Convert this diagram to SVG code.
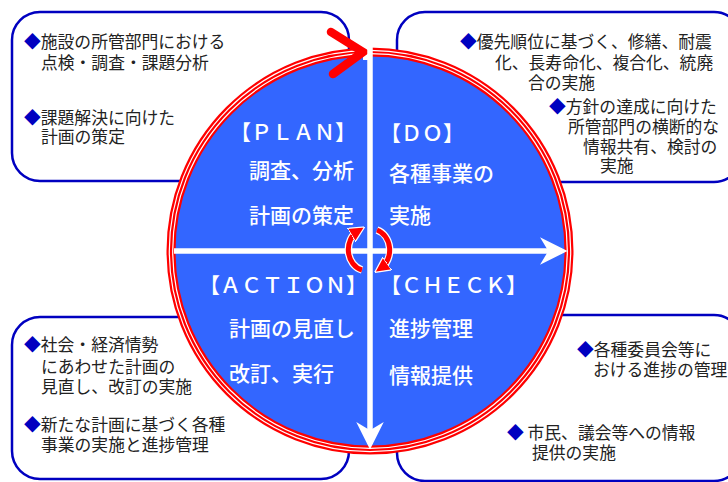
<svg xmlns="http://www.w3.org/2000/svg" width="728" height="482" viewBox="0 0 728 482">
<style>
.box{fill:#fff;stroke:#0000c0;stroke-width:2.5}
.bt{font-family:"Noto Sans CJK JP","Noto Sans CJK SC",sans-serif;font-size:16.8px;fill:#222}
.d{fill:#0000c0}
.ct{font-family:"Noto Sans CJK JP","Noto Sans CJK SC",sans-serif;font-size:21px;font-weight:500;fill:#fff}
.wl{stroke:#fff;stroke-width:5.5;fill:none}
.ra{fill:none;stroke:#f00;stroke-width:5}
.rw{fill:none;stroke:#fff;stroke-width:7.5}
</style>
<defs>
<marker id="wh" viewBox="0 0 10 10" refX="8" refY="5" markerWidth="5" markerHeight="5" markerUnits="strokeWidth" orient="auto">
<path d="M0,0 L10,5 L0,10 L3,5 Z" fill="#fff"/>
</marker>
<marker id="rh" viewBox="0 0 10 10" refX="5" refY="5" markerWidth="3.1" markerHeight="3.1" markerUnits="strokeWidth" orient="auto">
<path d="M0,0 L10,5 L0,10 Z" fill="#f00" stroke="#fff" stroke-width="0.8"/>
</marker>
</defs>
<rect width="728" height="482" fill="#fff"/>
<g id="box-plan"><rect class="box" x="12" y="12" width="337" height="169" rx="28"/>
<text class="bt" x="24" y="48.4"><tspan class="d">◆</tspan>施設の所管部門における</text>
<text class="bt" x="41" y="69.4">点検・調査・課題分析</text>
<text class="bt" x="24" y="124.4"><tspan class="d">◆</tspan>課題解決に向けた</text>
<text class="bt" x="41" y="143.4">計画の策定</text></g>
<g id="box-do"><rect class="box" x="397" y="12" width="345" height="170" rx="28"/>
<text class="bt" x="460" y="48.4"><tspan class="d">◆</tspan>優先順位に基づく、修繕、耐震</text>
<text class="bt" x="495" y="69.4">化、長寿命化、複合化、統廃</text>
<text class="bt" x="528" y="89.4">合の実施</text>
<text class="bt" x="549" y="113.4"><tspan class="d">◆</tspan>方針の達成に向けた</text>
<text class="bt" x="568" y="133.4">所管部門の横断的な</text>
<text class="bt" x="583" y="153.4">情報共有、検討の</text>
<text class="bt" x="600" y="172.4">実施</text></g>
<g id="box-action"><rect class="box" x="12" y="317" width="337" height="162" rx="28"/>
<text class="bt" x="24" y="351.4"><tspan class="d">◆</tspan>社会・経済情勢</text>
<text class="bt" x="41" y="373.4">にあわせた計画の</text>
<text class="bt" x="41" y="393.4">見直し、改訂の実施</text>
<text class="bt" x="24" y="431.4"><tspan class="d">◆</tspan>新たな計画に基づく各種</text>
<text class="bt" x="41" y="451.4">事業の実施と進捗管理</text></g>
<g id="box-check"><rect class="box" x="397" y="315" width="345" height="166" rx="28"/>
<text class="bt" x="577" y="356.4"><tspan class="d">◆</tspan>各種委員会等に</text>
<text class="bt" x="593" y="376.4">おける進捗の管理</text>
<text class="bt" x="507" y="439.4"><tspan class="d">◆</tspan> 市民、議会等への情報</text>
<text class="bt" x="532" y="459.4">提供の実施</text></g>
<g id="cycle">
<circle cx="372" cy="254" r="200" fill="#000" opacity="0.12"/>
<circle cx="370" cy="251" r="199" fill="#3366ff"/>
<circle cx="370" cy="251" r="199" fill="none" stroke="#f00" stroke-width="9"/>
<circle cx="370" cy="251" r="197.3" fill="none" stroke="#fff" stroke-width="1.2"/>
<circle cx="370" cy="251" r="200.7" fill="none" stroke="#fff" stroke-width="1.2"/>
<line x1="366.5" y1="44" x2="366.5" y2="60" stroke="#fff" stroke-width="7"/>
<path d="M331,32 L363,52 L333,74" fill="none" stroke="#f00" stroke-width="8.5" stroke-linejoin="miter" stroke-linecap="round"/>
</g>
<g id="connectors">
<line class="wl" x1="370" y1="46" x2="370" y2="444" marker-end="url(#wh)"/>
<line class="wl" x1="174" y1="251" x2="562" y2="251" marker-end="url(#wh)"/>
<path class="rw" d="M362,270 A18 21 0 0 1 358,231"/>
<path class="rw" d="M377,230 A18 21 0 0 1 381,268"/>
<path class="ra" d="M362,270 A18 21 0 0 1 358,231" marker-end="url(#rh)"/>
<path class="ra" d="M377,230 A18 21 0 0 1 381,268" marker-end="url(#rh)"/>
</g>
<g id="plan"><text class="ct" x="230" y="140">【ＰＬＡＮ】</text>
<text class="ct" x="249" y="178">調査、分析</text>
<text class="ct" x="249" y="223">計画の策定</text></g>
<g id="do"><text class="ct" x="380" y="141">【ＤＯ】</text>
<text class="ct" x="389" y="181">各種事業の</text>
<text class="ct" x="389" y="223">実施</text></g>
<g id="action"><text class="ct" x="199" y="293">【ＡＣＴＩＯＮ】</text>
<text class="ct" x="229" y="336">計画の見直し</text>
<text class="ct" x="229" y="381">改訂、実行</text></g>
<g id="check"><text class="ct" x="380" y="293">【ＣＨＥＣＫ】</text>
<text class="ct" x="389" y="336">進捗管理</text>
<text class="ct" x="389" y="383">情報提供</text></g>
</svg>
